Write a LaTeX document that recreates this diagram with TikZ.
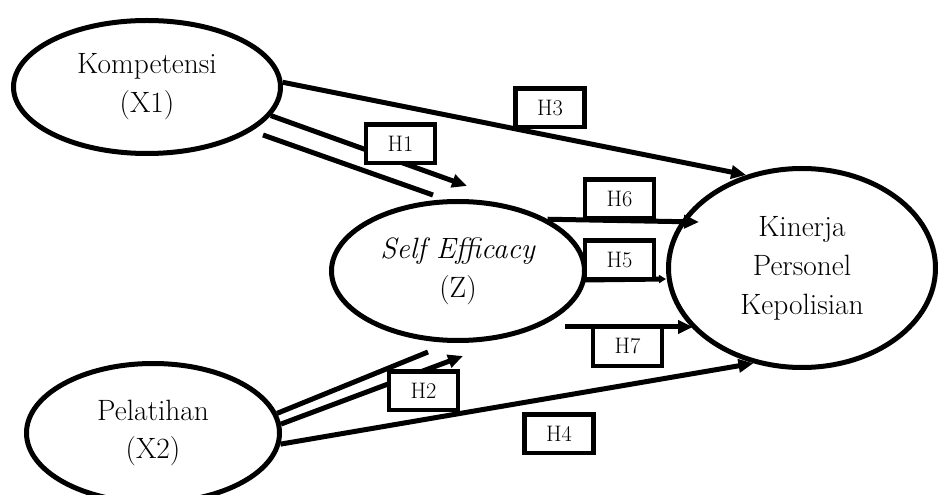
\documentclass[tikz,border=0pt]{standalone}
\usepackage{fontspec}
\setmainfont{Latin Modern Roman}
\usetikzlibrary{shapes.geometric,arrows.meta}
\begin{document}
\begin{tikzpicture}[x=1bp,y=-1bp,
  latent/.style={ellipse,draw,line width=5bp,inner sep=0pt,align=center,font=\fontsize{29.5}{39}\selectfont},
  hbox/.style={rectangle,draw,fill=white,line width=4.5bp,inner sep=0pt,minimum width=69bp,minimum height=38.5bp,font=\fontsize{22.5}{24}\selectfont},
  conn/.style={line width=5bp},
  arr/.style={conn,-{Triangle[length=15bp,width=13bp]}},
  smallarr/.style={conn,-{Triangle[length=7bp,width=8bp]}}]
\useasboundingbox (0,0) rectangle (938,495);
% latent variables
\node[latent,minimum width=267bp,minimum height=133bp] (k) at (147,87) {Kompetensi\\(X1)};
\node[latent,minimum width=253bp,minimum height=139bp] (se) at (458,271) {\textit{Self Efficacy}\\(Z)};
\node[latent,minimum width=267bp,minimum height=199bp] (kp) at (802,268) {Kinerja\\Personel\\Kepolisian};
\node[latent,minimum width=253bp,minimum height=139bp] (p) at (153,433) {Pelatihan\\(X2)};
% free ends
\coordinate (h1a) at (263,135);
\coordinate (h1b) at (433,195);
\coordinate (h1t) at (467,186);
\coordinate (h2t) at (428,352);
\coordinate (h2a) at (463,356);
\coordinate (h6t) at (699,222);
\coordinate (h5a) at (584,280);
\coordinate (h5t) at (666,279);
\coordinate (h7a) at (565,327);
\coordinate (h7t) at (693,327);
% connectors
\draw[arr] (k.2) -- (kp.121);
\draw[arr] (k.-13.5) -- (h1t);
\draw[conn] (h1a) -- (h1b);
\draw[conn] (p.9.5) -- (h2t);
\draw[arr] (p.4.4) -- (h2a);
\draw[arr] (p.-5) -- (kp.243);
\draw[arr] (se.30) -- (h6t);
\draw[smallarr] (h5a) -- (h5t);
\draw[arr] (h7a) -- (h7t);
% hypothesis labels
\node[hbox] (b1) at (400.5,144) {H1};
\node[hbox] (b2) at (423.5,390.5) {H2};
\node[hbox] (b3) at (550,108) {H3};
\node[hbox] (b4) at (559,433.5) {H4};
\node[hbox] (b5) at (619.5,260) {H5};
\node[hbox] (b6) at (619.5,199) {H6};
\node[hbox] (b7) at (627.5,346.5) {H7};
\end{tikzpicture}
\end{document}
